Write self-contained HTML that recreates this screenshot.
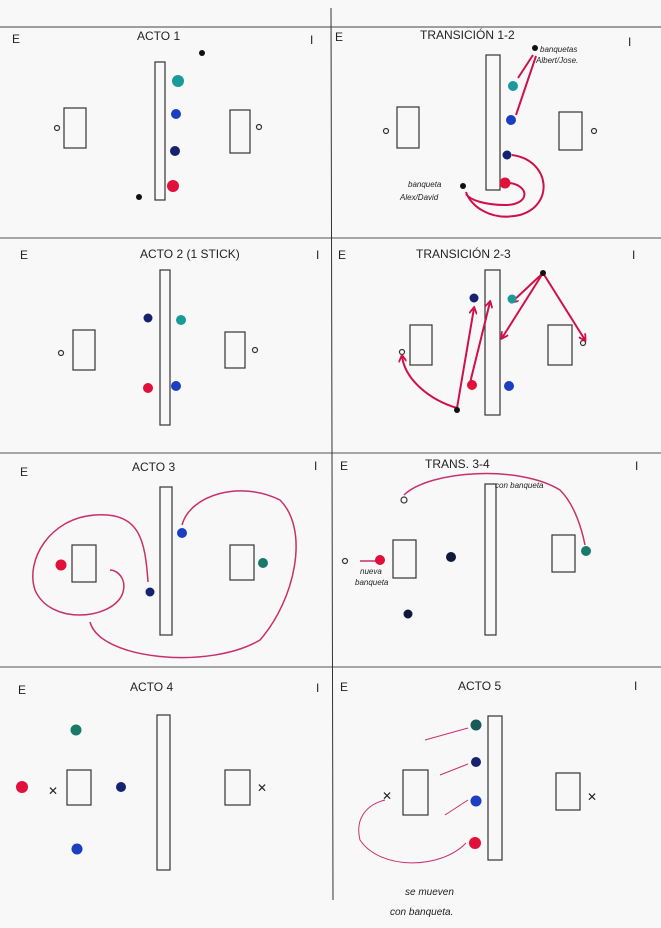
<!DOCTYPE html>
<html><head><meta charset="utf-8"><style>
body{margin:0;background:#fafafa}
svg{display:block}
text{font-family:"Liberation Sans",sans-serif;fill:#222}
.t{font-size:12px}
.s{font-size:8px;font-style:italic}
</style></head><body>
<svg width="661" height="928" viewBox="0 0 661 928">
<defs><marker id="a" markerWidth="8" markerHeight="8" refX="6" refY="4" orient="auto" markerUnits="userSpaceOnUse"><path d="M0,0 L7,4 L0,8" fill="none" stroke="#d0104a" stroke-width="1.8"/></marker></defs>
<rect width="661" height="928" fill="#f8f8f9"/>
<g stroke="#555" stroke-width="1" fill="none">
<line x1="0" y1="27" x2="661" y2="27" stroke="#444"/>
<line x1="0" y1="238" x2="661" y2="238"/>
<line x1="0" y1="453" x2="661" y2="453"/>
<line x1="0" y1="667" x2="661" y2="667"/>
<line x1="331" y1="8" x2="333" y2="900" stroke="#333"/>
</g>
<g class="t">
<text x="137" y="40">ACTO 1</text><text x="12" y="43">E</text><text x="310" y="44">I</text>
<text x="420" y="39">TRANSICIÓN 1-2</text><text x="335" y="41">E</text><text x="628" y="46">I</text>
<text x="140" y="258">ACTO 2 (1 STICK)</text><text x="20" y="259">E</text><text x="316" y="259">I</text>
<text x="416" y="258">TRANSICIÓN 2-3</text><text x="338" y="259">E</text><text x="632" y="259">I</text>
<text x="132" y="471">ACTO 3</text><text x="20" y="476">E</text><text x="314" y="470">I</text>
<text x="425" y="468">TRANS. 3-4</text><text x="340" y="470">E</text><text x="635" y="470">I</text>
<text x="130" y="691">ACTO 4</text><text x="18" y="694">E</text><text x="316" y="692">I</text>
<text x="458" y="690">ACTO 5</text><text x="340" y="691">E</text><text x="634" y="690">I</text>
</g>
<g stroke="#333" stroke-width="1.2" fill="none">
<rect x="64" y="108" width="22" height="40"/><rect x="230" y="110" width="20" height="43"/>
<rect x="397" y="107" width="22" height="41"/><rect x="559" y="112" width="23" height="38"/>
<rect x="73" y="330" width="22" height="40"/><rect x="225" y="332" width="20" height="36"/>
<rect x="410" y="325" width="22" height="40"/><rect x="548" y="325" width="24" height="40"/>
<rect x="72" y="545" width="24" height="37"/><rect x="230" y="545" width="24" height="35"/>
<rect x="393" y="540" width="23" height="38"/><rect x="552" y="535" width="23" height="37"/>
<rect x="67" y="770" width="24" height="35"/><rect x="225" y="770" width="25" height="35"/>
<rect x="403" y="770" width="25" height="45"/><rect x="556" y="773" width="24" height="37"/>
<rect x="155" y="62" width="10" height="138"/><rect x="486" y="55" width="14" height="135"/>
<rect x="160" y="270" width="10" height="155"/><rect x="485" y="270" width="15" height="145"/>
<rect x="160" y="487" width="12" height="148"/><rect x="485" y="484" width="11" height="151"/>
<rect x="157" y="715" width="13" height="155"/><rect x="488" y="716" width="14" height="144"/>
<circle cx="57" cy="128" r="2.5"/><circle cx="259" cy="127" r="2.5"/>
<circle cx="386" cy="131" r="2.5"/><circle cx="594" cy="131" r="2.5"/>
<circle cx="61" cy="353" r="2.5"/><circle cx="255" cy="350" r="2.5"/>
<circle cx="402" cy="352" r="2.5"/><circle cx="583" cy="343" r="2.5"/>
<circle cx="404" cy="500" r="3"/><circle cx="345" cy="561" r="2.5"/>
</g>
<g stroke="#d0104a" stroke-width="2" fill="none">
<path d="M518 78 L533 55 M516 115 L536 56"/>
<path d="M512 155 C550 160 555 205 520 215 C490 222 470 205 466 192"/>
<path d="M510 183 C530 186 530 205 505 205 C485 205 470 200 466 194"/>
<path d="M457 408 L474 308" marker-end="url(#a)"/>
<path d="M457 408 C430 400 405 380 402 356" marker-end="url(#a)"/>
<path d="M470 383 L490 302" marker-end="url(#a)"/>
<path d="M543 273 L502 338" marker-end="url(#a)"/>
<path d="M543 273 L512 302" marker-end="url(#a)"/>
<path d="M543 273 L585 340" marker-end="url(#a)"/>
</g>
<g stroke="#c8306a" stroke-width="1.5" fill="none">
<path d="M148 582 C145 540 140 512 95 515 C50 518 25 560 35 590 C50 625 110 620 122 595 C128 580 118 570 110 570"/>
<path d="M182 525 C190 495 240 480 280 500 C310 530 295 600 260 640 C210 670 100 660 90 622"/>
<path d="M404 495 C430 470 520 465 560 490 C575 505 582 530 585 545"/>
<path d="M376 561 L360 561"/>
<path d="M468 728 L425 740 M468 764 L440 775 M468 800 L445 815 M466 843 C440 870 380 870 360 840 C355 820 365 805 385 800" stroke-width="1"/>
</g>
<g>
<circle cx="202" cy="53" r="3" fill="#111"/><circle cx="178" cy="81" r="6" fill="#1a9a9a"/>
<circle cx="176" cy="114" r="5" fill="#1b3fc0"/><circle cx="175" cy="151" r="5" fill="#152270"/>
<circle cx="173" cy="186" r="6" fill="#e0103a"/><circle cx="139" cy="197" r="3" fill="#111"/>
<circle cx="535" cy="48" r="3" fill="#111"/><circle cx="513" cy="86" r="5" fill="#1a9a9a"/>
<circle cx="511" cy="120" r="5" fill="#1b3fc0"/><circle cx="507" cy="155" r="4.5" fill="#152270"/>
<circle cx="505" cy="183" r="5.5" fill="#e0103a"/><circle cx="463" cy="186" r="3" fill="#111"/>
<circle cx="148" cy="318" r="4.5" fill="#152270"/><circle cx="181" cy="320" r="5" fill="#1a9a9a"/>
<circle cx="148" cy="388" r="5" fill="#e0103a"/><circle cx="176" cy="386" r="5" fill="#1b3fc0"/>
<circle cx="474" cy="298" r="4.5" fill="#152270"/><circle cx="512" cy="299" r="4.5" fill="#1a9a9a"/>
<circle cx="543" cy="273" r="3" fill="#111"/><circle cx="472" cy="385" r="5" fill="#e0103a"/>
<circle cx="509" cy="386" r="5" fill="#1b3fc0"/><circle cx="457" cy="410" r="3" fill="#111"/>
<circle cx="61" cy="565" r="5.5" fill="#e0103a"/><circle cx="182" cy="533" r="5" fill="#1b3fc0"/>
<circle cx="150" cy="592" r="4.5" fill="#152270"/><circle cx="263" cy="563" r="5" fill="#1a7a6a"/>
<circle cx="451" cy="557" r="5" fill="#111a3a"/><circle cx="408" cy="614" r="4.5" fill="#111a3a"/>
<circle cx="380" cy="560" r="5" fill="#e0103a"/><circle cx="586" cy="551" r="5" fill="#1a7a6a"/>
<circle cx="76" cy="730" r="5.5" fill="#1a7a6a"/><circle cx="22" cy="787" r="6" fill="#e0103a"/>
<circle cx="121" cy="787" r="5" fill="#152270"/><circle cx="77" cy="849" r="5.5" fill="#1b3fc0"/>
<circle cx="476" cy="725" r="5.5" fill="#1a5a5a"/><circle cx="476" cy="762" r="5" fill="#152270"/>
<circle cx="476" cy="801" r="5.5" fill="#1b3fc0"/><circle cx="475" cy="843" r="6" fill="#e0103a"/>
</g>
<g class="t" font-size="12">
<text x="48" y="795">✕</text><text x="257" y="792">✕</text>
<text x="382" y="800">✕</text><text x="587" y="801">✕</text>
</g>
<g class="s">
<text x="540" y="52">banquetas</text><text x="536" y="63">Albert/Jose.</text>
<text x="408" y="187">banqueta</text><text x="400" y="200">Alex/David</text>
<text x="495" y="488">con banqueta</text>
<text x="360" y="574">nueva</text><text x="355" y="585">banqueta</text>
</g>
<g class="t" style="font-size:10px;font-style:italic">
<text x="405" y="895">se mueven</text><text x="390" y="915">con banqueta.</text>
</g>
</svg>
</body></html>
